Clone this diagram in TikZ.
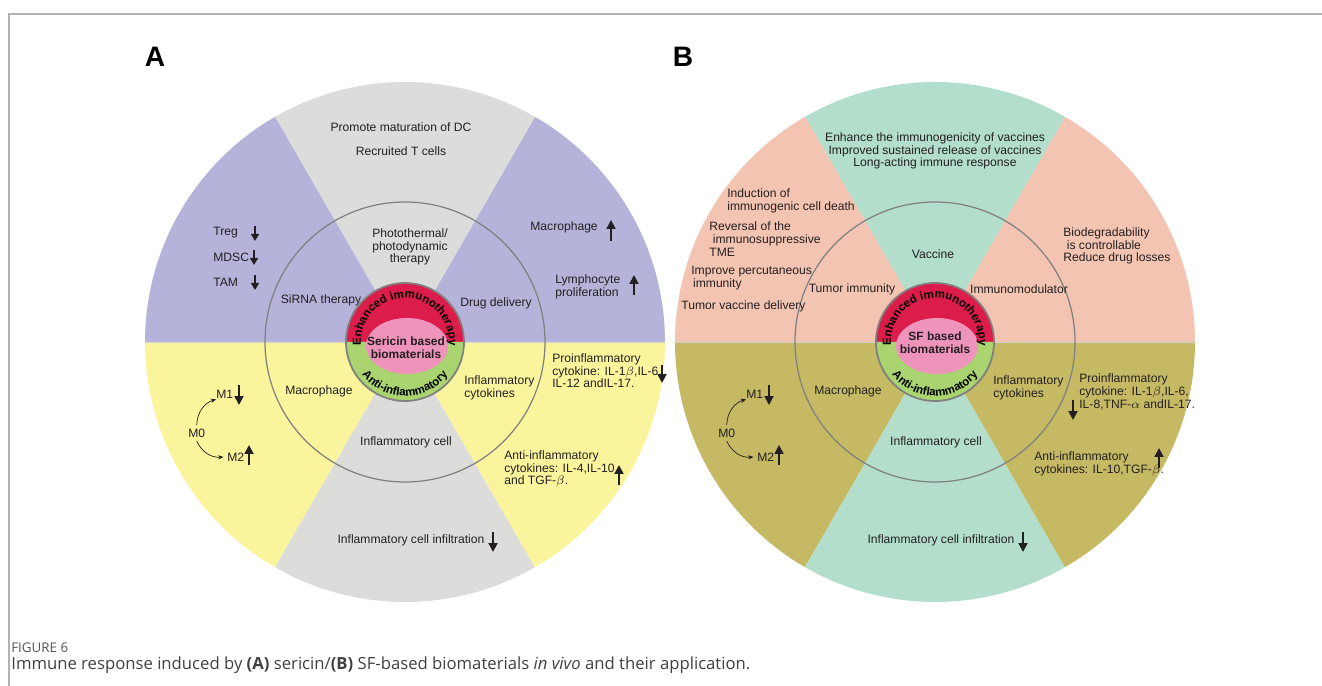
\documentclass[tikz,border=0pt]{standalone}
\usepackage{fontspec}
\setmainfont{Liberation Sans}
\newfontfamily\capfont{Open Sans}
\usetikzlibrary{arrows.meta,decorations.text}
\definecolor{wedgepurple}{HTML}{B5B3D9}
\definecolor{wedgegray}{HTML}{DCDCDB}
\definecolor{wedgeyellow}{HTML}{FAF59C}
\definecolor{wedgesalmon}{HTML}{F3C4B1}
\definecolor{wedgeteal}{HTML}{B2DECB}
\definecolor{wedgeolive}{HTML}{C5B963}
\definecolor{ringred}{HTML}{DC1C4B}
\definecolor{ringgreen}{HTML}{A9D46F}
\definecolor{corepink}{HTML}{EE93BA}
\definecolor{textdark}{HTML}{231F20}
\definecolor{captiongray}{HTML}{555555}
\newcommand\ringfont{\bfseries\fontsize{6.6}{7}\selectfont}
\tikzset{
  lbl/.style={font=\fontsize{6.9}{7.2}\selectfont, text=textdark, inner sep=0pt, align=center},
  lbll/.style={lbl, align=left, anchor=west},
  ringline/.style={draw=black!50, line width=0.7pt},
  divline/.style={black!18, line width=0.5pt},
  uparrow/.style={textdark, line width=1.1pt, -{Triangle[width=5pt,length=5pt]}},
  smallarrow/.style={textdark, line width=1pt, -{Triangle[width=4.5pt,length=4pt]}},
  turnarrow/.style={textdark, line width=0.4pt, -{Stealth[length=3pt,width=2.4pt]}},
  corelabel/.style={font=\bfseries\fontsize{6.8}{7.6}\selectfont, text=textdark, align=center, inner sep=0pt},
  panellabel/.style={font=\bfseries\fontsize{16}{18}\selectfont, inner sep=0pt},
  frameline/.style={black!30, line width=0.6pt}
}
\begin{document}
\begin{tikzpicture}[x=0.02cm, y=0.02cm]
  \useasboundingbox (0,0) rectangle (1322,686);
  \draw[frameline] (9,0) -- (9,672) -- (1322,672);
  \coordinate (cA) at (405,344);
  \coordinate (cB) at (935,344);

  % panel A wedges
  \fill[wedgepurple] (cA) -- ++(0:260) arc[start angle=0, end angle=60, radius=260] -- cycle;
  \fill[wedgegray] (cA) -- ++(60:260) arc[start angle=60, end angle=120, radius=260] -- cycle;
  \fill[wedgepurple] (cA) -- ++(120:260) arc[start angle=120, end angle=180, radius=260] -- cycle;
  \fill[wedgeyellow] (cA) -- ++(180:260) arc[start angle=180, end angle=240, radius=260] -- cycle;
  \fill[wedgegray] (cA) -- ++(240:260) arc[start angle=240, end angle=300, radius=260] -- cycle;
  \fill[wedgeyellow] (cA) -- ++(300:260) arc[start angle=300, end angle=360, radius=260] -- cycle;
  % panel B wedges
  \fill[wedgesalmon] (cB) -- ++(0:260) arc[start angle=0, end angle=60, radius=260] -- cycle;
  \fill[wedgeteal] (cB) -- ++(60:260) arc[start angle=60, end angle=120, radius=260] -- cycle;
  \fill[wedgesalmon] (cB) -- ++(120:260) arc[start angle=120, end angle=180, radius=260] -- cycle;
  \fill[wedgeolive] (cB) -- ++(180:260) arc[start angle=180, end angle=240, radius=260] -- cycle;
  \fill[wedgeteal] (cB) -- ++(240:260) arc[start angle=240, end angle=300, radius=260] -- cycle;
  \fill[wedgeolive] (cB) -- ++(300:260) arc[start angle=300, end angle=360, radius=260] -- cycle;

  \draw[divline] (cA) ++(-260,0) -- ++(520,0);
  \draw[divline] (cB) ++(-260,0) -- ++(520,0);
  \draw[ringline] (cA) circle[radius=140];
  \draw[ringline] (cB) circle[radius=140];

  % core rings
  \fill[ringred] (cA) ++(59,0) arc[start angle=0, end angle=180, radius=59] -- cycle;
  \fill[ringgreen] (cA) ++(-59,0) arc[start angle=180, end angle=360, radius=59] -- cycle;
  \fill[corepink] ([shift={(2,-4)}]cA) ellipse[x radius=41, y radius=28];
  \draw[ringline, line width=1pt] (cA) circle[radius=59];
  \fill[ringred] (cB) ++(59,0) arc[start angle=0, end angle=180, radius=59] -- cycle;
  \fill[ringgreen] (cB) ++(-59,0) arc[start angle=180, end angle=360, radius=59] -- cycle;
  \fill[corepink] ([shift={(2,-4)}]cB) ellipse[x radius=41, y radius=28];
  \draw[ringline, line width=1pt] (cB) circle[radius=59];

  \path[decorate, decoration={text along path, text align=center, text={|\ringfont|Enhanced immunotherapy}}]
    ([shift={(186:44)}]cA) arc[start angle=186, end angle=-6, radius=44];
  \path[decorate, decoration={text along path, text align=center, text={|\ringfont|Anti-inflammatory}}]
    ([shift={(212:54)}]cA) arc[start angle=212, end angle=328, radius=54];
  \path[decorate, decoration={text along path, text align=center, text={|\ringfont|Enhanced immunotherapy}}]
    ([shift={(186:44)}]cB) arc[start angle=186, end angle=-6, radius=44];
  \path[decorate, decoration={text along path, text align=center, text={|\ringfont|Anti-inflammatory}}]
    ([shift={(212:54)}]cB) arc[start angle=212, end angle=328, radius=54];

  \node[corelabel] (coreA) at (406,338) {Sericin based\\biomaterials};
  \node[corelabel] (coreB) at (935,343) {SF based\\biomaterials};

  % panel A labels
  \node[panellabel] (labA) at (155,629) {A};
  \node[lbl] (promA) at (401,559) {Promote maturation of DC};
  \node[lbl] (recrA) at (401,535) {Recruited T cells};
  \node[lbl] (photoA) at (410,439) {Photothermal/\\photodynamic\\therapy};
  \node[lbl] (sirnaA) at (321,386) {SiRNA therapy};
  \node[lbl] (drugA) at (496,383) {Drug delivery};
  \node[lbll] (tregA) at (213,453) {Treg};
  \node[lbll] (mdscA) at (213,429) {MDSC};
  \node[lbll] (tamA) at (213,404) {TAM};
  \draw[smallarrow] (255,460) -- (255,445);
  \draw[smallarrow] (254,436) -- (254,421);
  \draw[smallarrow] (255,411) -- (255,396);
  \node[lbll] (macuA) at (530,459) {Macrophage};
  \draw[uparrow] (611,445) -- (611,466);
  \node[lbll] (lympA) at (555,399) {Lymphocyte\\proliferation};
  \draw[uparrow] (634,391) -- (634,411);
  \node[lbl] (macdA) at (319,295) {Macrophage};
  \node[lbll] (m1A) at (216,292) {M1};
  \node[lbll] (m0A) at (188,253) {M0};
  \node[lbll] (m2A) at (227,229) {M2};
  \draw[turnarrow] ([yshift=2]m0A.north) to[bend left=35] ([yshift=-3]m1A.west);
  \draw[turnarrow] ([yshift=-2]m0A.south) to[bend right=35] ([xshift=-2]m2A.west);
  \draw[uparrow] (239,301) -- (239,281);
  \draw[uparrow] (249,221) -- (249,241);
  \node[lbl] (cellA) at (406,244) {Inflammatory cell};
  \node[lbl] (infA) at (411,146) {Inflammatory cell infiltration};
  \draw[uparrow] (493,154) -- (493,134);
  \node[lbll] (cytoA) at (464,298) {Inflammatory\\cytokines};
  \node[lbll] (proA) at (552,315) {Proinflammatory\\cytokine: IL-1$\beta$,IL-6,\\IL-12 andIL-17.};
  \draw[uparrow] (662,321) -- (662,303);
  \node[lbll] (antiA) at (504,217) {Anti-inflammatory\\cytokines: IL-4,IL-10\\and TGF-$\beta$.};
  \draw[uparrow] (619,201) -- (619,221);

  % panel B labels
  \node[panellabel] (labB) at (683,629) {B};
  \node[lbl] (vaccB) at (935,535) {Enhance the immunogenicity of vaccines\\Improved sustained release of vaccines\\Long-acting immune response};
  \node[lbll] (indB) at (727,485) {Induction of\\immunogenic cell death};
  \node[lbll] (revB) at (709,447) {Reversal of the\\\hspace{2pt}immunosuppressive\\TME};
  \node[lbll] (percB) at (691,408) {Improve percutaneous\\\hspace{1pt}immunity};
  \node[lbll] (tvdB) at (681,380) {Tumor vaccine delivery};
  \node[lbl] (tumB) at (852,397) {Tumor immunity};
  \node[lbl] (vacB) at (933,432) {Vaccine};
  \node[lbl] (modB) at (1019,397) {Immunomodulator};
  \node[lbll] (bioB) at (1063,440) {Biodegradability\\\hspace{2pt}is controllable\\Reduce drug losses};
  \node[lbl] (macdB) at (848,295) {Macrophage};
  \node[lbll] (m1B) at (746,292) {M1};
  \node[lbll] (m0B) at (718,253) {M0};
  \node[lbll] (m2B) at (757,229) {M2};
  \draw[turnarrow] ([yshift=2]m0B.north) to[bend left=35] ([yshift=-3]m1B.west);
  \draw[turnarrow] ([yshift=-2]m0B.south) to[bend right=35] ([xshift=-2]m2B.west);
  \draw[uparrow] (769,301) -- (769,281);
  \draw[uparrow] (779,221) -- (779,241);
  \node[lbl] (cellB) at (936,244) {Inflammatory cell};
  \node[lbl] (infB) at (941,146) {Inflammatory cell infiltration};
  \draw[uparrow] (1023,154) -- (1023,134);
  \node[lbll] (cytoB) at (993,298) {Inflammatory\\cytokines};
  \node[lbll] (proB) at (1079,294) {Proinflammatory\\cytokine: IL-1$\beta$,IL-6,\\IL-8,TNF-$\alpha$ andIL-17.};
  \draw[uparrow] (1073,286) -- (1073,266);
  \node[lbll] (antiB) at (1034,222) {Anti-inflammatory\\cytokines: IL-10,TGF-$\beta$.};
  \draw[uparrow] (1159,218) -- (1159,238);

  % caption
  \node[anchor=west, inner sep=0pt, font=\capfont\fontsize{7.6}{10}\selectfont, text=captiongray] (figno) at (11,38) {FIGURE 6};
  \node[anchor=west, inner sep=0pt, font=\capfont\fontsize{9.5}{11}\selectfont, text=black!75] (caption) at (11,21) {Immune response induced by \textbf{(A)} sericin/\textbf{(B)} SF-based biomaterials \textit{in vivo} and their application.};
\end{tikzpicture}
\end{document}
